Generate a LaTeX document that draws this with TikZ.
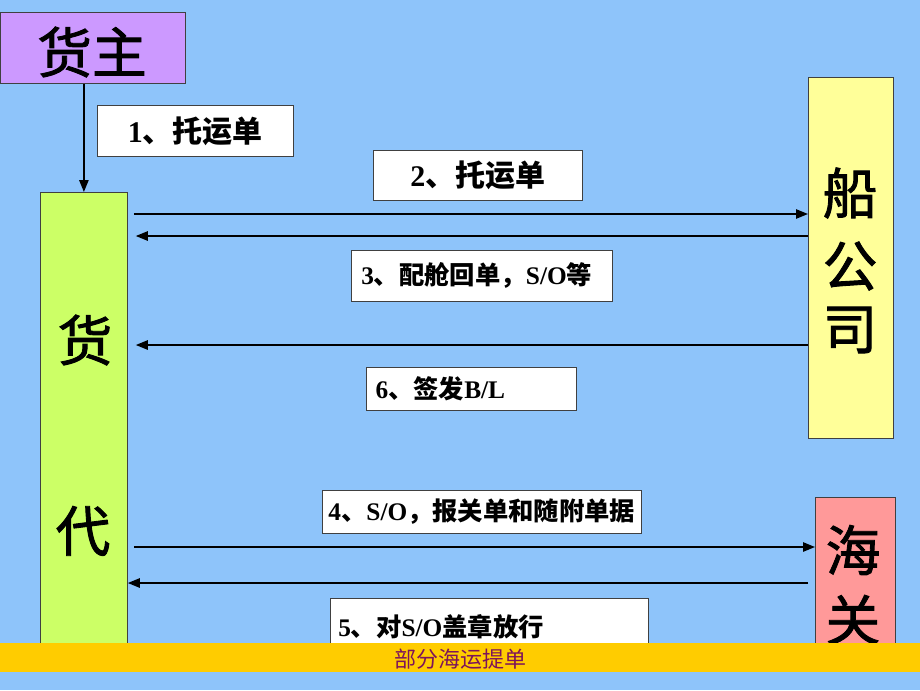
\documentclass[tikz,border=0pt]{standalone}
\usepackage{fontspec}
\setmainfont{Noto Sans CJK SC}
\newfontfamily\bigcjk{Noto Sans CJK SC}[FakeBold=1.6]
\newfontfamily\lat{Liberation Serif}
\usetikzlibrary{arrows.meta}
\definecolor{bg}{RGB}{142,196,250}
\definecolor{purp}{RGB}{204,153,255}
\definecolor{lgreen}{RGB}{204,255,102}
\definecolor{lyellow}{RGB}{255,255,153}
\definecolor{pink}{RGB}{255,153,153}
\definecolor{barc}{RGB}{255,204,0}
\definecolor{bartext}{RGB}{125,20,90}
\begin{document}
\begin{tikzpicture}[x=0.75pt,y=-0.75pt,
  bigbox/.style={draw=black!75,line width=0.6pt,anchor=north west,inner sep=0pt},
  lblbox/.style={draw=black!75,line width=0.6pt,fill=white,anchor=north west,inner sep=0pt},
  big/.style={inner sep=0pt,font=\bigcjk\fontsize{41}{44}\selectfont},
  lbl/.style={inner sep=0pt,font=\fontsize{19}{22}\selectfont\bfseries},
  lblL/.style={inner sep=0pt,font=\fontsize{22.5}{25}\selectfont\bfseries},
  arr/.style={line width=1.2pt,-{Triangle[length=9pt,width=7pt]}}]
\fill[bg] (0,0) rectangle (920,690);
\useasboundingbox (0,0) rectangle (920,690);
% main boxes
\node[bigbox,fill=purp,minimum width=138.75pt,minimum height=53.25pt] (hz) at (0,12) {};
\node[bigbox,fill=lgreen,minimum width=65.25pt,minimum height=349.5pt] (hd) at (40,192) {};
\node[bigbox,fill=lyellow,minimum width=63.75pt,minimum height=270.75pt] (sc) at (808,77) {};
\node[bigbox,fill=pink,minimum width=60pt,minimum height=120.75pt] (hg) at (815,497) {};
% big texts
\node[big] (thz) at (92,52) {货主};
\node[big] (thd1) at (85,340) {货};
\node[big] (thd2) at (83,531) {代};
\node[big] (tsc1) at (850,193) {船};
\node[big] (tsc2) at (850,266) {公};
\node[big] (tsc3) at (850,330) {司};
\node[big] (thg1) at (853,550) {海};
\node[big] (thg2) at (853,620) {关};
% label boxes
\node[lblbox,minimum width=147pt,minimum height=38.25pt] (b1) at (97,105) {};
\node[lblbox,minimum width=156.75pt,minimum height=37.5pt] (b2) at (373,150) {};
\node[lblbox,minimum width=195.75pt,minimum height=38.25pt] (b3) at (351,250) {};
\node[lblbox,minimum width=157.5pt,minimum height=32.25pt] (b6) at (366,367) {};
\node[lblbox,minimum width=239.25pt,minimum height=32.25pt] (b4) at (322,490) {};
\node[lblbox,minimum width=238.5pt,minimum height=46.5pt] (b5) at (330,598) {};
\node[lblL] (t1) at (b1.center) {{\lat 1}、托运单};
\node[lblL] (t2) at (b2.center) {{\lat 2}、托运单};
\node[lbl,anchor=west] (t3) at ([xshift=7.5pt]b3.west) {{\lat 3}、配舱回单，{\lat S/O}等};
\node[lbl,anchor=west] (t6) at ([xshift=7pt]b6.west) {{\lat 6}、签发{\lat B/L}};
\node[lbl] (t4) at (b4.center) {{\lat 4}、{\lat S/O}，报关单和随附单据};
\node[lbl,anchor=west] (t5) at ([xshift=6pt,yshift=2pt]b5.west) {{\lat 5}、对{\lat S/O}盖章放行};
% level coordinates
\coordinate (r2) at (0,214);
\coordinate (r3) at (0,236);
\coordinate (r6) at (0,345);
\coordinate (r4) at (0,547);
\coordinate (r5) at (0,583);
% connectors
\draw[arr] (hd.north |- hz.south) -- (hd.north);
\draw[arr] ([xshift=4.5pt]hd.east |- r2) -- (sc.west |- r2);
\draw[arr] (sc.west |- r3) -- ([xshift=6pt]hd.east |- r3);
\draw[arr] (sc.west |- r6) -- ([xshift=6pt]hd.east |- r6);
\draw[arr] ([xshift=5pt]hd.east |- r4) -- (hg.west |- r4);
\draw[arr] ([xshift=-5.25pt]hg.west |- r5) -- (hd.east |- r5);
% bottom bar
\fill[barc] (0,643) rectangle (920,672);
\node[inner sep=0pt,text=bartext,font=\fontsize{16.5}{18}\selectfont] (bar) at (460,659) {部分海运提单};
\end{tikzpicture}
\end{document}
